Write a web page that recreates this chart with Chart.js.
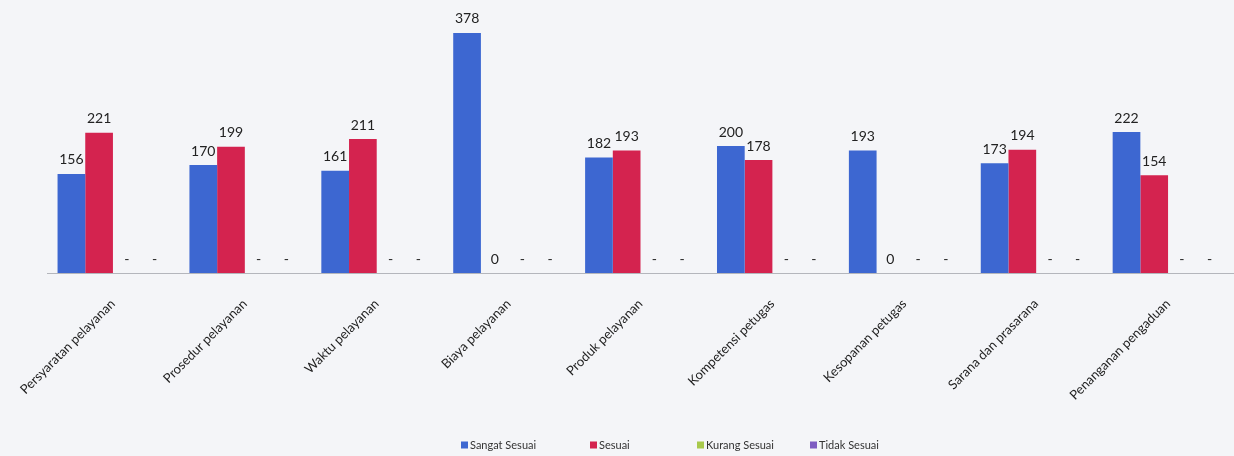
<!DOCTYPE html>
<html>
<head>
<meta charset="utf-8">
<script src="https://cdn.jsdelivr.net/npm/chart.js@4.4.1/dist/chart.umd.min.js"></script>
<style>
  html, body { margin: 0; padding: 0; background: #f4f5f8; }
  #wrap { width: 1234px; height: 456px; }
</style>
</head>
<body>
<div id="wrap"><canvas id="surveyChart"></canvas></div>
<script>
// Kategori unsur pelayanan
const categories = [
    'Persyaratan pelayanan',
    'Prosedur pelayanan',
    'Waktu pelayanan',
    'Biaya pelayanan',
    'Produk pelayanan',
    'Kompetensi petugas',
    'Kesopanan petugas',
    'Sarana dan prasarana',
    'Penanganan pengaduan'
];

// Jumlah responden per jawaban
const sangatSesuai = [156, 170, 161, 378, 182, 200, 193, 173, 222];
const sesuai = [221, 199, 211, 0, 193, 178, 0, 194, 154];
const kurangSesuai = [0, 0, 0, 0, 0, 0, 0, 0, 0];
const tidakSesuai = [0, 0, 0, 0, 0, 0, 0, 0, 0];

const seriesNames = ['Sangat Sesuai', 'Sesuai', 'Kurang Sesuai', 'Tidak Sesuai'];
const seriesColors = ['#3d67d1', '#d4234f', '#a8c94c', '#7e5cc2'];
// teks untuk nilai nol: Sesuai tampil "0", sisanya "-"
const zeroText = ['0', '0', '-', '-'];

const fontFamily = 'Lato, "Open Sans", sans-serif';

// Label nilai di atas batang
const valueLabels = {
    id: 'valueLabels',
    afterDatasetsDraw(chart) {
        const ctx = chart.ctx;
        ctx.save();
        ctx.font = '14px ' + fontFamily;
        ctx.fillStyle = '#222';
        ctx.textAlign = 'center';
        ctx.textBaseline = 'bottom';
        chart.data.datasets.forEach((ds, i) => {
            const meta = chart.getDatasetMeta(i);
            meta.data.forEach((bar, j) => {
                const v = ds.data[j];
                const text = v === 0 ? zeroText[i] : String(v);
                ctx.fillText(text, bar.x, bar.y - 7);
            });
        });
        ctx.restore();
    }
};

// Legenda di bawah (posisi mengikuti gambar asli)
const legendX = [461, 590, 697, 810];
const bottomLegend = {
    id: 'bottomLegend',
    afterDraw(chart) {
        const ctx = chart.ctx;
        ctx.save();
        ctx.font = '11px ' + fontFamily;
        ctx.textBaseline = 'middle';
        ctx.textAlign = 'left';
        chart.data.datasets.forEach((ds, i) => {
            const x = legendX[i];
            const y = 445;
            ctx.fillStyle = ds.backgroundColor;
            ctx.fillRect(x, y - 3.5, 7, 7);
            ctx.fillStyle = '#333';
            ctx.fillText(ds.label, x + 9, y);
        });
        ctx.restore();
    }
};

const seriesData = [sangatSesuai, sesuai, kurangSesuai, tidakSesuai];

new Chart(document.getElementById('surveyChart').getContext('2d'), {
    type: 'bar',
    data: {
        labels: categories,
        datasets: seriesData.map((d, i) => ({
            label: seriesNames[i],
            data: d,
            backgroundColor: seriesColors[i],
            borderWidth: 0,
            categoryPercentage: 0.84,
            barPercentage: 1.0
        }))
    },
    options: {
        responsive: true,
        maintainAspectRatio: false,
        animation: false,
        layout: {
            padding: { top: 19, left: 0, right: 0, bottom: 38 }
        },
        plugins: {
            legend: { display: false },
            tooltip: { enabled: false }
        },
        scales: {
            x: {
                grid: { display: false },
                border: { color: '#b4b6bc', width: 1 },
                ticks: {
                    color: '#222',
                    font: { family: fontFamily, size: 13 },
                    minRotation: 45,
                    maxRotation: 45,
                    padding: 15
                }
            },
            y: {
                min: 0,
                max: 400,
                grid: { display: false },
                border: { display: false },
                ticks: { display: false },
                // ruang kosong di kiri seperti gambar asli
                afterFit(scale) { scale.width = 47; }
            }
        }
    },
    plugins: [valueLabels, bottomLegend]
});
</script>
</body>
</html>
